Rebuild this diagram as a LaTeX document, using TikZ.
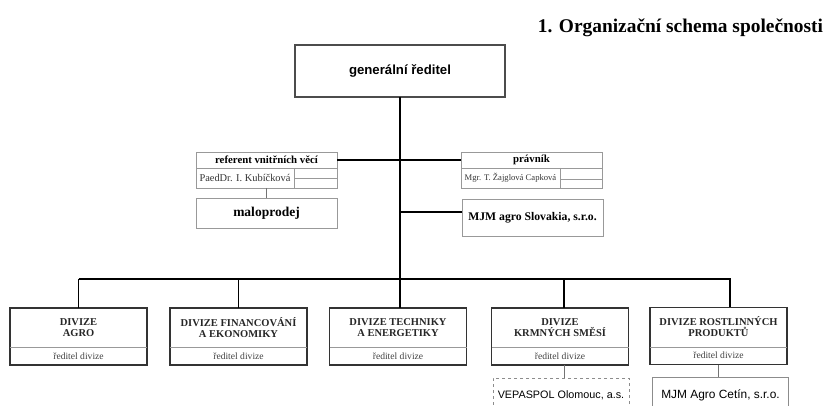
\documentclass[tikz,border=0pt]{standalone}
\usepackage{fontspec}
\setmainfont{Liberation Serif}
\setsansfont{Liberation Sans}
\begin{document}
\begin{tikzpicture}[x=1pt,y=-1pt,
  every node/.style={inner sep=0pt, outer sep=0pt},
  topbox/.style={draw=black!70, line width=1.1pt, rectangle},
  cellbox/.style={draw=black!40, line width=0.7pt, rectangle},
  divbox/.style={draw=black!80, line width=1.3pt, rectangle, minimum width=137pt, minimum height=57pt},
  subbox/.style={draw=black!45, line width=0.8pt, rectangle, minimum width=136pt, minimum height=40pt},
  cellrule/.style={draw=black!40, line width=0.6pt},
  link/.style={draw=black, line width=1.3pt},
  sublink/.style={draw=black!55, line width=0.8pt},
  divtitle/.style={font=\fontsize{10.5}{11}\selectfont\bfseries, align=center, text=black!85},
  divsub/.style={font=\fontsize{9.6}{11}\selectfont, text=black!75},
]
\useasboundingbox (0,0) rectangle (828,406);
\clip (0,0) rectangle (828,406);

% heading
\node[anchor=east, font=\fontsize{19.4}{22}\selectfont\bfseries] (title) at (823,28) {1. Organizační schema společnosti};

% general director
\node[topbox, minimum width=210pt, minimum height=52pt, font=\sffamily\fontsize{13.2}{15}\selectfont\bfseries] (gr) at (400,71) {generální ředitel};

% staff positions
\node[cellbox, minimum width=141pt, minimum height=36pt] (ref) at (266.5,170) {};
\draw[cellrule] (196,168) -- (337,168) (294,168) -- (294,188) (294,178) -- (337,178);
\node[font=\fontsize{10.8}{12}\selectfont\bfseries] (refhead) at (266.5,160) {referent vnitřních věcí};
\node[font=\fontsize{10.4}{12}\selectfont, text=black!80] (refname) at (245,178) {PaedDr. I. Kubíčková};

\node[cellbox, minimum width=141pt, minimum height=30pt, font=\fontsize{13.5}{15}\selectfont\bfseries] (malo) at (266.5,213) {maloprodej};

\node[cellbox, minimum width=141pt, minimum height=36pt] (prav) at (531.5,170) {};
\draw[cellrule] (461,168) -- (602,168) (560,168) -- (560,188) (560,179) -- (602,179);
\node[font=\fontsize{10.8}{12}\selectfont\bfseries] (pravhead) at (531.5,160) {právník};
\node[font=\fontsize{8.6}{10}\selectfont, text=black!80] (pravname) at (510.5,178) {Mgr. T. Žajglová Capková};

\node[cellbox, minimum width=141pt, minimum height=37pt, font=\fontsize{11.7}{13}\selectfont\bfseries] (mjms) at (532.5,217.5) {MJM agro Slovakia, s.r.o.};

% divisions
\node[divbox] (d1) at (78.5,336.5) {};
\node[divbox] (d2) at (238.5,336.5) {};
\node[divbox] (d3) at (398,336.5) {};
\node[divbox] (d4) at (560,336.5) {};
\node[divbox] (d5) at (718.5,336) {};
\foreach \d in {d1,d2,d3,d4,d5}{
  \draw[cellrule] ([yshift=-39.5pt]\d.north west) -- ([yshift=-39.5pt]\d.north east);
  \node[divsub] (\d sub) at ([yshift=-48pt]\d.north) {ředitel divize};
}
\node[divtitle] (d1t) at ([yshift=-19.5pt]d1.north) {DIVIZE\\AGRO};
\node[divtitle] (d2t) at ([yshift=-19.5pt]d2.north) {DIVIZE FINANCOVÁNÍ\\A  EKONOMIKY};
\node[divtitle] (d3t) at ([yshift=-19.5pt]d3.north) {DIVIZE TECHNIKY\\A  ENERGETIKY};
\node[divtitle] (d4t) at ([yshift=-19.5pt]d4.north) {DIVIZE\\KRMNÝCH SMĚSÍ};
\node[divtitle] (d5t) at ([yshift=-19.5pt]d5.north) {DIVIZE ROSTLINNÝCH\\PRODUKTŮ};

% subsidiaries
\node[subbox, dashed] (vep) at (561,398) {};
\node[font=\sffamily\fontsize{10.8}{12}\selectfont] (veptext) at (561,395) {VEPASPOL Olomouc, a.s.};
\node[subbox] (cet) at (720.5,397) {};
\node[font=\sffamily\fontsize{11.9}{13}\selectfont] (cettext) at (720.5,395) {MJM Agro Cetín, s.r.o.};

% connectors
\coordinate (bus) at (400,279);
\draw[link] (gr.south) -- (bus);
\draw[link] (ref.east |- refhead) -- (gr.south |- refhead);
\draw[link] (prav.west |- pravhead) -- (gr.south |- pravhead);
\draw[link] (mjms.west |- 0,212) -- (gr.south |- 0,212);
\draw[link] (d1.north |- bus) -- (d1.north);
\draw[link] (d1.north |- bus) -- (730,279) -- (730,0 |- d5.north);
\draw[link] (d2.north |- bus) -- (d2.north);
\draw[link] (400,279) -- (400,0 |- d3.north);
\draw[link] (564,279) -- (564,0 |- d4.north);
\draw[sublink] (ref.south) -- (malo.north);
\draw[sublink] (564,0 |- d4.south) -- (564,0 |- vep.north);
\draw[sublink] (d5.south) -- (d5.south |- cet.north);
\end{tikzpicture}
\end{document}
